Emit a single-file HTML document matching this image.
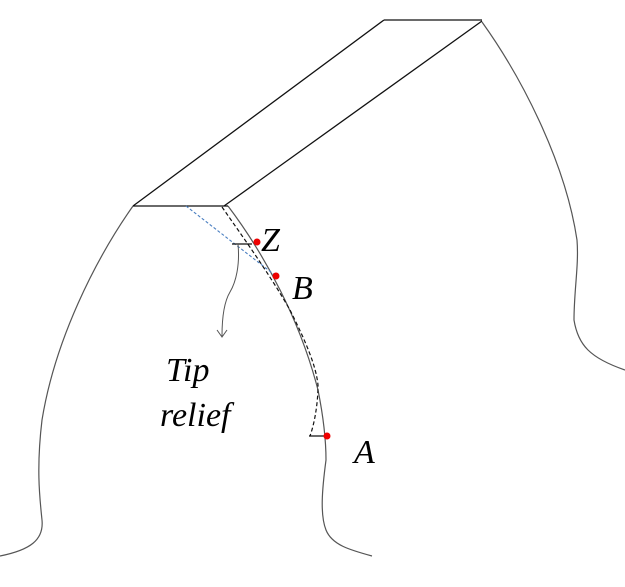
<!DOCTYPE html>
<html><head><meta charset="utf-8"><style>
html,body{margin:0;padding:0;background:#fff;}
svg{display:block;}
</style></head><body>
<svg width="625" height="587" viewBox="0 0 625 587" xmlns="http://www.w3.org/2000/svg">
<g fill="none" stroke="#555" stroke-width="1.2">
<path d="M133,206 C95,260 55,340 42,420 C36,470 40,500 42,520 C44,540 30,550 0,556"/>
<path d="M228,206 C265,255 300,320 318,390 C324,420 326,440 326,460 C322,490 320,515 326,530 C332,545 350,550 372,556"/>
<path d="M482,22 C520,75 565,160 577,240 C579,265 574,290 574,320 C578,345 590,358 625,370"/>
</g>
<g fill="none" stroke="#111" stroke-width="1.3">
<line x1="133" y1="206" x2="228" y2="206"/>
<line x1="133" y1="206" x2="384" y2="20"/>
<line x1="384" y1="20" x2="482" y2="20"/>
<line x1="224" y1="206" x2="482" y2="21"/>
</g>
<line x1="186" y1="206" x2="276" y2="276" stroke="#4a7fc1" stroke-width="1.1" stroke-dasharray="3,2"/>
<path d="M222,207 C245,240 270,275 290,310 C305,340 316,365 318,385 C318,405 314,425 310,436" fill="none" stroke="#111" stroke-width="1.2" stroke-dasharray="4,2.5"/>
<line x1="309" y1="436" x2="327" y2="436" stroke="#111" stroke-width="1.3"/>
<line x1="232" y1="244" x2="252" y2="244" stroke="#111" stroke-width="1.3"/>
<path d="M238,244 C240,265 236,282 230,292 C224,302 222,318 222,336" fill="none" stroke="#555" stroke-width="1"/>
<path d="M217,330 L222,337 L227,330" fill="none" stroke="#555" stroke-width="1"/>
<circle cx="257" cy="242" r="3.5" fill="#e00"/>
<circle cx="276" cy="276" r="3.5" fill="#e00"/>
<circle cx="327" cy="436" r="3.5" fill="#e00"/>
<g font-family="Liberation Serif, DejaVu Serif, serif" font-style="italic" font-size="34" fill="#000">
<text x="261" y="251">Z</text>
<text x="292" y="299">B</text>
<text x="166" y="381">Tip</text>
<text x="160" y="426">relief</text>
<text x="354" y="463">A</text>
</g>
</svg>
</body></html>
